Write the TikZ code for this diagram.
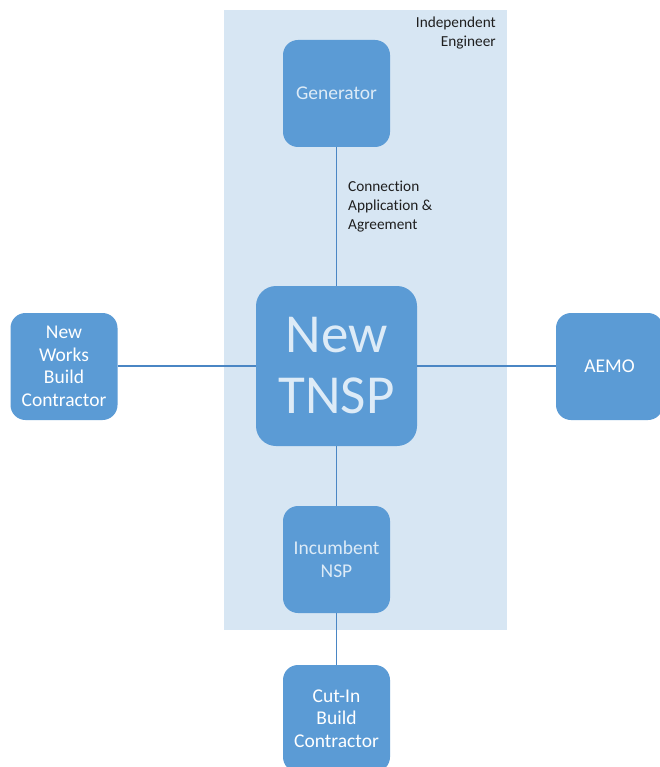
\documentclass[tikz,border=0pt]{standalone}
\usepackage{fontspec}
\setmainfont{Carlito}[Ligatures={NoCommon,NoRare}]
\definecolor{panelblue}{HTML}{D7E6F3}
\definecolor{boxblue}{HTML}{5B9BD5}
\definecolor{linkblue}{HTML}{4A86C4}
\definecolor{palefont}{HTML}{DDEBF7}
\definecolor{labelgrey}{HTML}{1F1F1F}
\begin{document}
\begin{tikzpicture}[x=1pt,y=-1pt,
  party/.style={fill=boxblue, draw=none, rounded corners=15pt,
    minimum width=107pt, minimum height=107pt, inner sep=0pt,
    align=center, font=\fontsize{19.5}{22.5}\selectfont, text=white},
  inside/.style={party, text=palefont},
  link/.style={draw=linkblue, line width=1.2pt},
  note/.style={font=\fontsize{15.3}{18.7}\selectfont, text=labelgrey, inner sep=0pt}]
  \clip (0,0) rectangle (660,767);
  \fill[white] (0,0) rectangle (660,767);
  % Independent Engineer panel
  \fill[panelblue] (224,10) rectangle (507,630);
  \node[note, anchor=north east, align=right] (ie) at (496,17) {Independent\\Engineer};
  % parties
  \node[inside] (gen) at (336.5,93.5) {Generator};
  \node[inside, minimum width=161pt, minimum height=160pt, rounded corners=20pt,
        font=\fontsize{55}{61}\selectfont] (tnsp) at (336.5,366) {New\\TNSP};
  \node[inside] (nsp) at (336.5,559.5) {Incumbent\\NSP};
  \node[party] (nw) at (64,366.5) {New\\Works\\Build\\Contractor};
  \node[party] (aemo) at (609.5,366.5) {AEMO};
  \node[party] (cut) at (336.5,718.5) {Cut-In\\Build\\Contractor};
  % connectors
  \draw[link] (gen) -- (tnsp);
  \draw[link] (tnsp) -- (nsp);
  \draw[link] (nsp) -- (cut);
  \draw[link] (nw.east |- tnsp) -- (tnsp.west);
  \draw[link] (tnsp.east) -- (aemo.west |- tnsp);
  \node[note, anchor=north west, align=left] (conn) at (348,181) {Connection\\Application \&\\Agreement};
\end{tikzpicture}
\end{document}
